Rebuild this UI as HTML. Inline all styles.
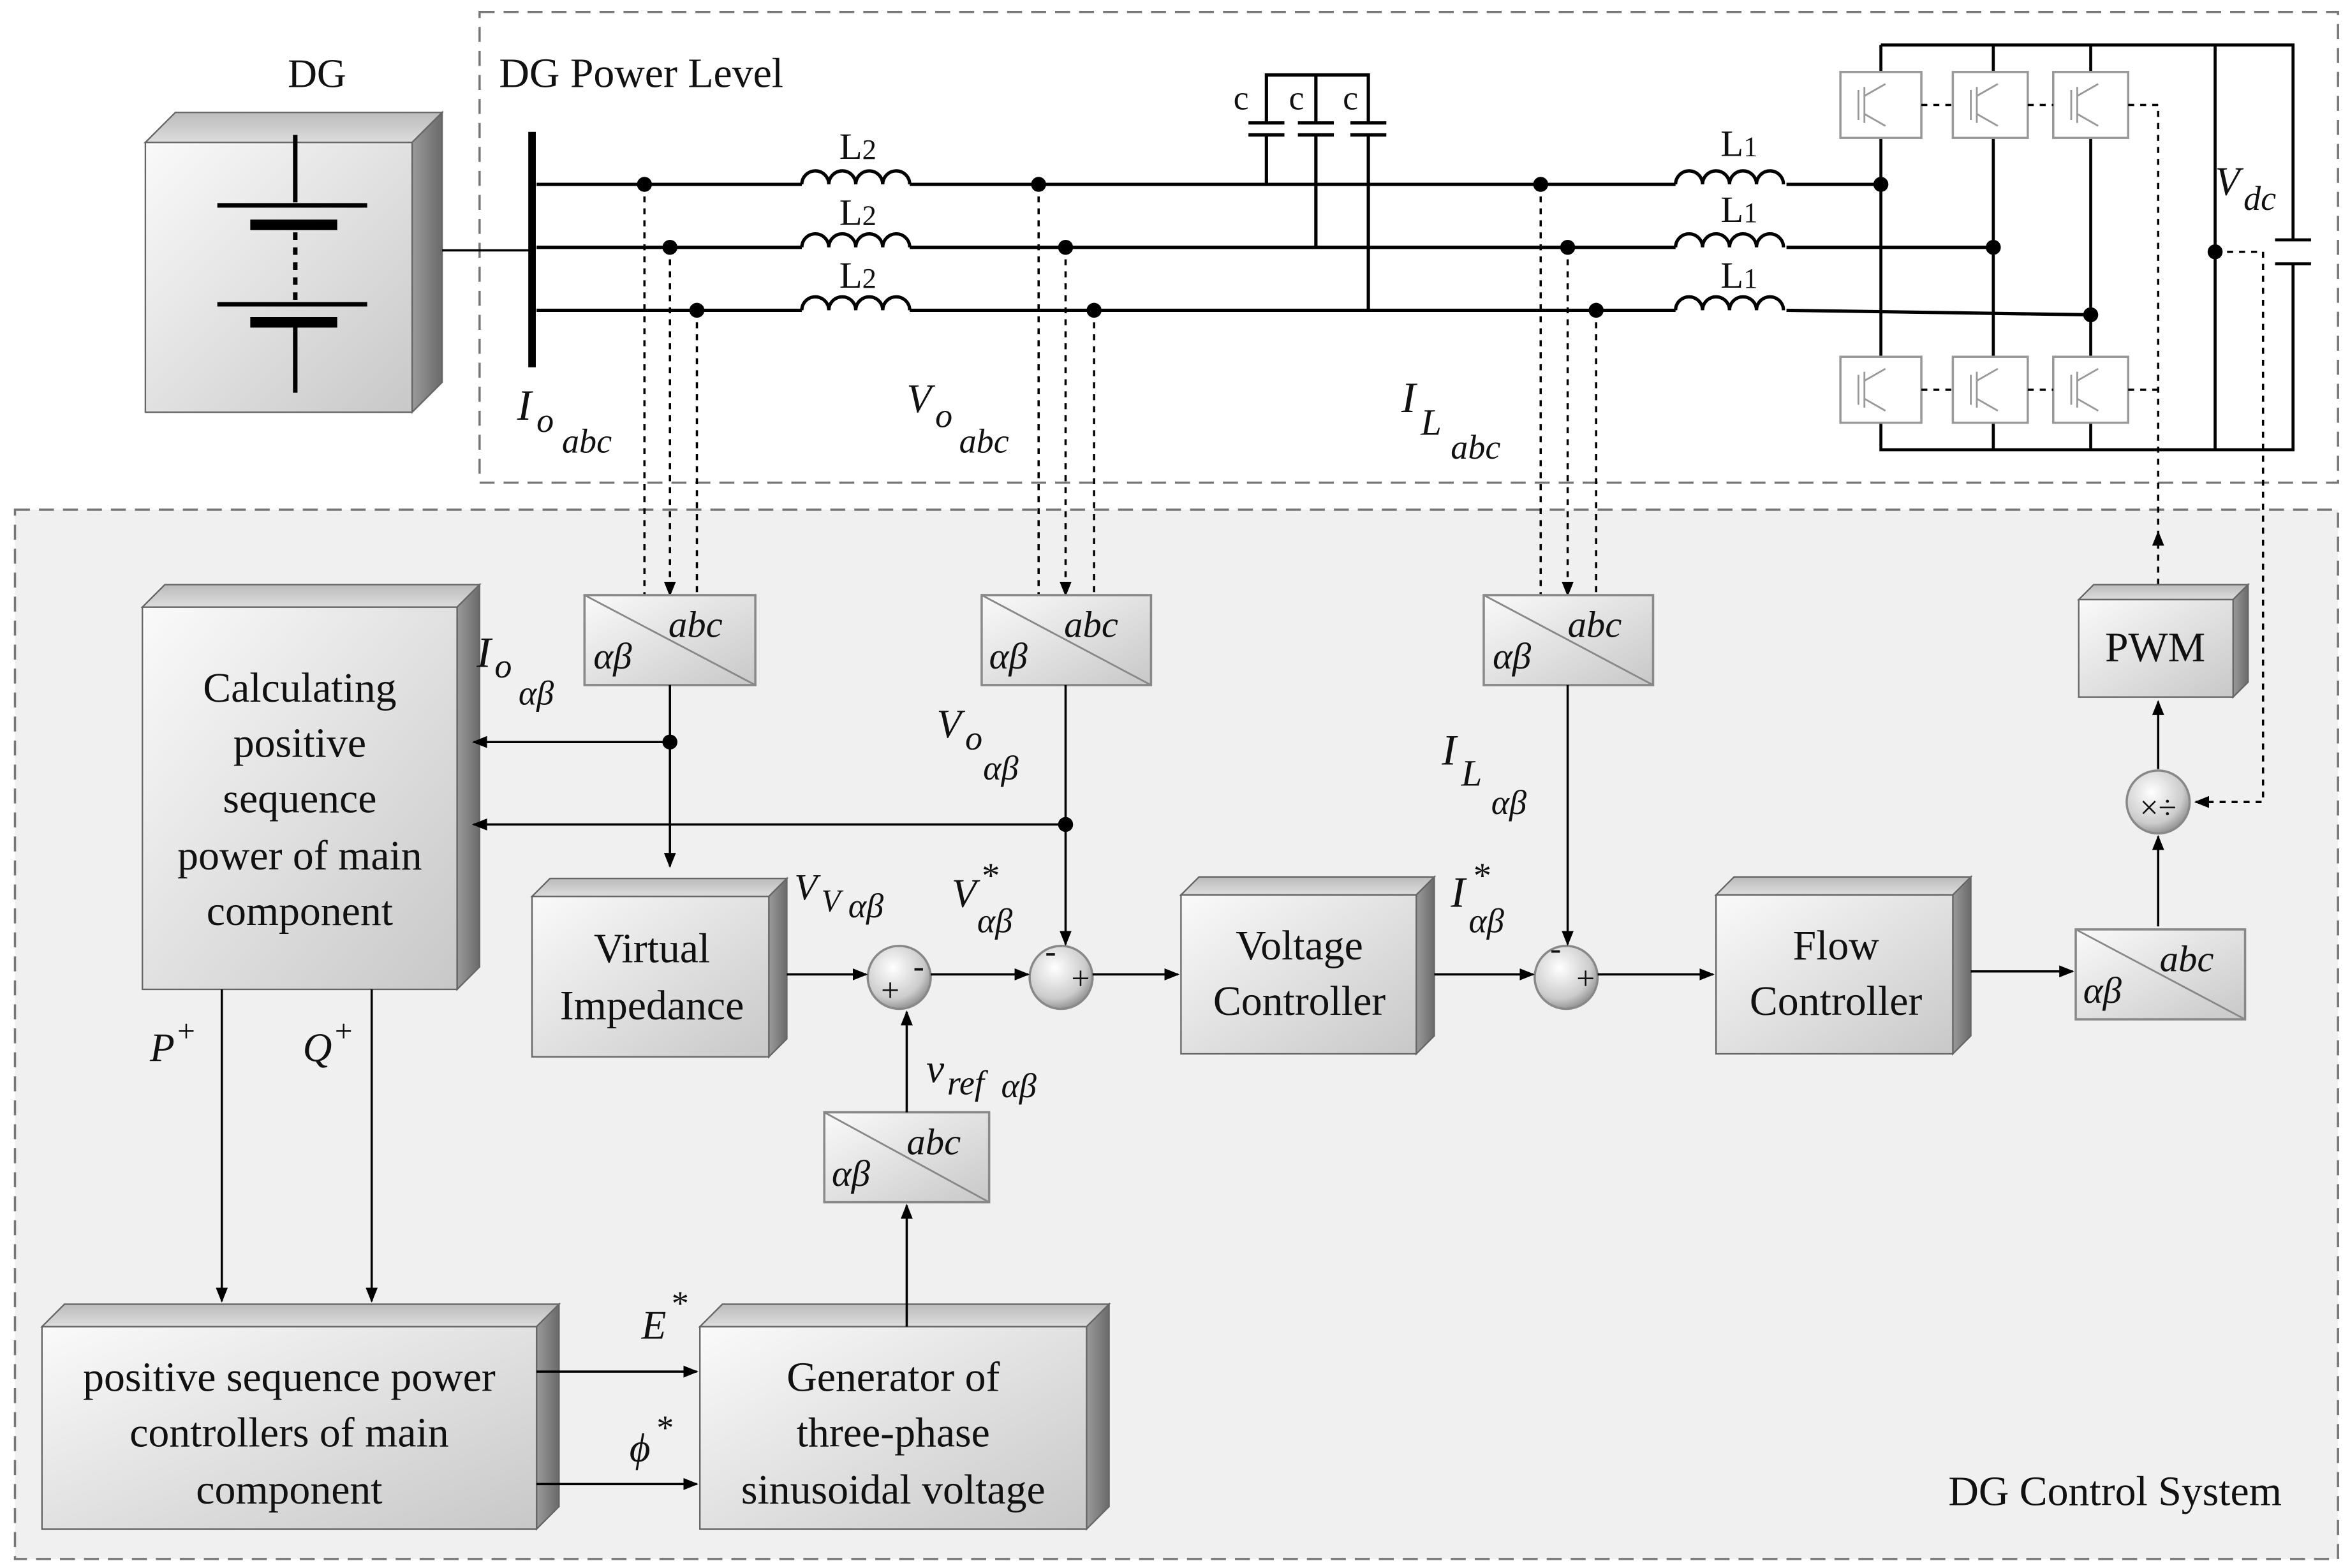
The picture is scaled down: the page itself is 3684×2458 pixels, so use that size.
<!DOCTYPE html>
<html><head><meta charset="utf-8"><style>
html,body{margin:0;padding:0;background:#fff;}
svg{display:block;}
text{font-family:"Liberation Serif",serif;fill:#111;}
</style></head><body>
<svg width="3684" height="2458" viewBox="0 0 1568 1046" preserveAspectRatio="none" xmlns="http://www.w3.org/2000/svg">
<defs>
<linearGradient id="g" x1="0" y1="0" x2="1" y2="1"><stop offset="0" stop-color="#fafafa"/><stop offset="1" stop-color="#c8c8c8"/></linearGradient>
<linearGradient id="gs" x1="0" y1="0" x2="1" y2="0"><stop offset="0" stop-color="#9a9a9a"/><stop offset="1" stop-color="#6a6a6a"/></linearGradient>
<linearGradient id="gt" x1="0" y1="0" x2="0" y2="1"><stop offset="0" stop-color="#bbb"/><stop offset="1" stop-color="#ddd"/></linearGradient>
<radialGradient id="gc" cx="0.4" cy="0.35" r="0.7"><stop offset="0" stop-color="#fff"/><stop offset="0.7" stop-color="#ccc"/><stop offset="1" stop-color="#888"/></radialGradient>
<marker id="a" markerWidth="10" markerHeight="8" refX="9" refY="4" orient="auto" markerUnits="userSpaceOnUse"><path d="M0,0 L10,4 L0,8 z" fill="#000"/></marker>
</defs>
<rect x="10" y="340" width="1550" height="700" fill="#f0f0f0" stroke="#777" stroke-dasharray="10,6" stroke-width="1.5"/>
<rect x="320" y="8" width="1240" height="314" fill="none" stroke="#777" stroke-dasharray="10,6" stroke-width="1.5"/>
<text x="192" y="58" font-size="27">DG</text>
<text x="333" y="58" font-size="28">DG Power Level</text>
<text x="1300" y="1004" font-size="28">DG Control System</text>

<!-- DG box -->
<polygon points="97,95 117,75 295,75 275,95" fill="url(#gt)" stroke="#666"/>
<polygon points="275,95 295,75 295,255 275,275" fill="url(#gs)" stroke="#666"/>
<rect x="97" y="95" width="178" height="180" fill="url(#g)" stroke="#666"/>
<g stroke="#000" stroke-width="3">
<line x1="197" y1="90" x2="197" y2="135"/><line x1="145" y1="137" x2="245" y2="137"/><line x1="167" y1="150" x2="225" y2="150" stroke-width="7"/>
<line x1="197" y1="155" x2="197" y2="200" stroke-dasharray="5,5"/>
<line x1="145" y1="203" x2="245" y2="203"/><line x1="167" y1="215" x2="225" y2="215" stroke-width="7"/><line x1="197" y1="218" x2="197" y2="262"/>
</g>
<line x1="295" y1="167" x2="355" y2="167" stroke="#000" stroke-width="1.5"/>
<line x1="355" y1="88" x2="355" y2="245" stroke="#000" stroke-width="5"/>

<!-- lines -->
<g stroke="#000" stroke-width="2.2" fill="none">
<path d="M358,123 H535 M607,123 H1118 M1192,123 H1255"/>
<path d="M358,165 H535 M607,165 H1118 M1192,165 H1330"/>
<path d="M358,207 H535 M607,207 H1118 M1192,207 L1395,210"/>
<path d="M535,123 a9,9 0 0 1 18,0 a9,9 0 0 1 18,0 a9,9 0 0 1 18,0 a9,9 0 0 1 18,0"/>
<path d="M535,165 a9,9 0 0 1 18,0 a9,9 0 0 1 18,0 a9,9 0 0 1 18,0 a9,9 0 0 1 18,0"/>
<path d="M535,207 a9,9 0 0 1 18,0 a9,9 0 0 1 18,0 a9,9 0 0 1 18,0 a9,9 0 0 1 18,0"/>
<path d="M1118,123 a9,9 0 0 1 18,0 a9,9 0 0 1 18,0 a9,9 0 0 1 18,0 a9,9 0 0 1 18,0"/>
<path d="M1118,165 a9,9 0 0 1 18,0 a9,9 0 0 1 18,0 a9,9 0 0 1 18,0 a9,9 0 0 1 18,0"/>
<path d="M1118,207 a9,9 0 0 1 18,0 a9,9 0 0 1 18,0 a9,9 0 0 1 18,0 a9,9 0 0 1 18,0"/>
<!-- caps -->
<path d="M845,123 V90 M833,90 H857 M833,82 H857 M845,82 V50 H913 V82 M878,50 V82 M866,82 H890 M866,90 H890 M878,90 V165 M901,82 H925 M901,90 H925 M913,90 V207"/>
</g>
<text x="560" y="106" font-size="25">L<tspan font-size="19">2</tspan></text>
<text x="560" y="150" font-size="25">L<tspan font-size="19">2</tspan></text>
<text x="560" y="192" font-size="25">L<tspan font-size="19">2</tspan></text>
<text x="1148" y="104" font-size="25">L<tspan font-size="19">1</tspan></text>
<text x="1148" y="148" font-size="25">L<tspan font-size="19">1</tspan></text>
<text x="1148" y="192" font-size="25">L<tspan font-size="19">1</tspan></text>
<text x="823" y="73" font-size="23">c</text><text x="860" y="73" font-size="23">c</text><text x="896" y="73" font-size="23">c</text>
<g fill="#000">
<circle cx="430" cy="123" r="5"/><circle cx="447" cy="165" r="5"/><circle cx="465" cy="207" r="5"/>
<circle cx="693" cy="123" r="5"/><circle cx="711" cy="165" r="5"/><circle cx="730" cy="207" r="5"/>
<circle cx="1028" cy="123" r="5"/><circle cx="1046" cy="165" r="5"/><circle cx="1065" cy="207" r="5"/>
<circle cx="1255" cy="123" r="5"/><circle cx="1330" cy="165" r="5"/><circle cx="1395" cy="210" r="5"/>
<circle cx="1478" cy="168" r="5"/>
</g>
<!-- inverter -->
<g stroke="#000" stroke-width="2" fill="none">
<path d="M1255,30 H1530 V160 M1530,176 V300 H1255 V30 M1330,30 V300 M1395,30 V300 M1478,30 V300"/>
<path d="M1518,160 H1542 M1518,176 H1542"/>
</g>
<g fill="#fff" stroke="#999" stroke-width="1.5">
<rect x="1228" y="48" width="54" height="44"/><rect x="1303" y="48" width="50" height="44"/><rect x="1370" y="48" width="50" height="44"/>
<rect x="1228" y="238" width="54" height="44"/><rect x="1303" y="238" width="50" height="44"/><rect x="1370" y="238" width="50" height="44"/>
</g>
<g stroke="#999" stroke-width="1.2" fill="none">
<path d="M1240,60 V80 M1244,58 V82 M1244,64 L1258,56 M1244,76 L1258,84"/>
<path d="M1315,60 V80 M1319,58 V82 M1319,64 L1333,56 M1319,76 L1333,84"/>
<path d="M1382,60 V80 M1386,58 V82 M1386,64 L1400,56 M1386,76 L1400,84"/>
<path d="M1240,250 V270 M1244,248 V272 M1244,254 L1258,246 M1244,266 L1258,274"/>
<path d="M1315,250 V270 M1319,248 V272 M1319,254 L1333,246 M1319,266 L1333,274"/>
<path d="M1382,250 V270 M1386,248 V272 M1386,254 L1400,246 M1386,266 L1400,274"/>
</g>
<g stroke="#000" stroke-width="1.5" stroke-dasharray="4,4" fill="none">
<path d="M1282,70 H1303 M1353,70 H1370 M1420,70 H1440 V360"/>
<path d="M1282,260 H1303 M1353,260 H1370 M1420,260 H1440"/>
<path d="M1478,168 H1510 V535 H1465" marker-end="url(#a)"/>
<path d="M1440,390 V355" marker-end="url(#a)"/>
<path d="M430,123 V397 M465,207 V397 M693,123 V397 M730,207 V397 M1028,123 V397 M1065,207 V397"/>
<path d="M447,165 V397" marker-end="url(#a)"/><path d="M711,165 V397" marker-end="url(#a)"/><path d="M1046,165 V397" marker-end="url(#a)"/>
</g>
<text x="1478" y="130" font-size="27" font-style="italic">V</text><text x="1497" y="140" font-size="23" font-style="italic">dc</text>
<text x="345" y="280" font-size="29" font-style="italic">I</text><text x="358" y="288" font-size="23" font-style="italic">o</text><text x="375" y="302" font-size="23" font-style="italic">abc</text>
<text x="605" y="275" font-size="27" font-style="italic">V</text><text x="624" y="285" font-size="23" font-style="italic">o</text><text x="640" y="302" font-size="23" font-style="italic">abc</text>
<text x="935" y="275" font-size="29" font-style="italic">I</text><text x="948" y="290" font-size="25" font-style="italic">L</text><text x="968" y="306" font-size="23" font-style="italic">abc</text>

<g fill="url(#g)" stroke="#888" stroke-width="1.5">
<rect x="390" y="397" width="114" height="60"/><rect x="655" y="397" width="113" height="60"/><rect x="990" y="397" width="113" height="60"/>
<rect x="550" y="742" width="110" height="60"/><rect x="1385" y="620" width="113" height="60"/>
</g>
<g stroke="#888" stroke-width="1.2">
<line x1="390" y1="397" x2="504" y2="457"/><line x1="655" y1="397" x2="768" y2="457"/><line x1="990" y1="397" x2="1103" y2="457"/>
<line x1="550" y1="742" x2="660" y2="802"/><line x1="1385" y1="620" x2="1498" y2="680"/>
</g>
<g font-size="25" font-style="italic">
<text x="446" y="425">abc</text><text x="396" y="446">αβ</text>
<text x="710" y="425">abc</text><text x="660" y="446">αβ</text>
<text x="1046" y="425">abc</text><text x="996" y="446">αβ</text>
<text x="605" y="770">abc</text><text x="555" y="791">αβ</text>
<text x="1441" y="648">abc</text><text x="1390" y="669">αβ</text>
</g>

<g stroke="#666" stroke-width="1">
<polygon points="95,405 110,390 320,390 305,405" fill="url(#gt)"/><polygon points="305,405 320,390 320,645 305,660" fill="url(#gs)"/><rect x="95" y="405" width="210" height="255" fill="url(#g)"/>
<polygon points="355,598 367,586 525,586 513,598" fill="url(#gt)"/><polygon points="513,598 525,586 525,693 513,705" fill="url(#gs)"/><rect x="355" y="598" width="158" height="107" fill="url(#g)"/>
<polygon points="788,597 800,585 957,585 945,597" fill="url(#gt)"/><polygon points="945,597 957,585 957,691 945,703" fill="url(#gs)"/><rect x="788" y="597" width="157" height="106" fill="url(#g)"/>
<polygon points="1145,597 1157,585 1315,585 1303,597" fill="url(#gt)"/><polygon points="1303,597 1315,585 1315,691 1303,703" fill="url(#gs)"/><rect x="1145" y="597" width="158" height="106" fill="url(#g)"/>
<polygon points="1387,400 1397,390 1500,390 1490,400" fill="url(#gt)"/><polygon points="1490,400 1500,390 1500,455 1490,465" fill="url(#gs)"/><rect x="1387" y="400" width="103" height="65" fill="url(#g)"/>
<polygon points="28,885 43,870 373,870 358,885" fill="url(#gt)"/><polygon points="358,885 373,870 373,1005 358,1020" fill="url(#gs)"/><rect x="28" y="885" width="330" height="135" fill="url(#g)"/>
<polygon points="467,885 482,870 740,870 725,885" fill="url(#gt)"/><polygon points="725,885 740,870 740,1005 725,1020" fill="url(#gs)"/><rect x="467" y="885" width="258" height="135" fill="url(#g)"/>
</g>
<g font-size="28" text-anchor="middle">
<text x="200" y="468">Calculating</text><text x="200" y="505">positive</text><text x="200" y="542">sequence</text><text x="200" y="580">power of main</text><text x="200" y="617">component</text>
<text x="435" y="642">Virtual</text><text x="435" y="680">Impedance</text>
<text x="867" y="640">Voltage</text><text x="867" y="677">Controller</text>
<text x="1225" y="640">Flow</text><text x="1225" y="677">Controller</text>
<text x="1438" y="441">PWM</text>
<text x="193" y="928">positive sequence power</text><text x="193" y="965">controllers of main</text><text x="193" y="1003">component</text>
<text x="596" y="928">Generator of</text><text x="596" y="965">three-phase</text><text x="596" y="1003">sinusoidal voltage</text>
</g>

<g stroke="#888" stroke-width="1.5" fill="url(#gc)">
<circle cx="600" cy="652" r="21"/><circle cx="708" cy="652" r="21"/><circle cx="1045" cy="652" r="21"/><circle cx="1440" cy="535" r="21"/>
</g>
<g font-size="22" font-family="Liberation Sans" text-anchor="middle">
<text x="594" y="668">+</text><text x="613" y="652">-</text>
<text x="701" y="642">-</text><text x="721" y="660">+</text>
<text x="1038" y="640">-</text><text x="1058" y="660">+</text>
<text x="1440" y="546">×÷</text>
</g>

<g stroke="#000" stroke-width="1.5" fill="none">
<path d="M447,457 V578" marker-end="url(#a)"/>
<path d="M447,495 H316" marker-end="url(#a)"/>
<path d="M711,457 V630" marker-end="url(#a)"/>
<path d="M711,550 H316" marker-end="url(#a)"/>
<path d="M1046,457 V630" marker-end="url(#a)"/>
<path d="M525,650 H578" marker-end="url(#a)"/>
<path d="M621,650 H686" marker-end="url(#a)"/>
<path d="M729,650 H786" marker-end="url(#a)"/>
<path d="M957,650 H1023" marker-end="url(#a)"/>
<path d="M1066,650 H1143" marker-end="url(#a)"/>
<path d="M1315,648 H1383" marker-end="url(#a)"/>
<path d="M1440,618 V558" marker-end="url(#a)"/>
<path d="M1440,513 V468" marker-end="url(#a)"/>
<path d="M605,742 V675" marker-end="url(#a)"/>
<path d="M605,885 V804" marker-end="url(#a)"/>
<path d="M148,660 V868" marker-end="url(#a)"/>
<path d="M248,660 V868" marker-end="url(#a)"/>
<path d="M358,915 H465" marker-end="url(#a)"/>
<path d="M358,990 H465" marker-end="url(#a)"/>
</g>
<g fill="#000"><circle cx="447" cy="495" r="5"/><circle cx="711" cy="550" r="5"/></g>

<g font-style="italic">
<text x="318" y="445" font-size="29">I</text><text x="330" y="452" font-size="23">o</text><text x="346" y="470" font-size="23">αβ</text>
<text x="625" y="492" font-size="27">V</text><text x="644" y="500" font-size="23">o</text><text x="656" y="520" font-size="23">αβ</text>
<text x="962" y="510" font-size="29">I</text><text x="975" y="524" font-size="25">L</text><text x="995" y="543" font-size="23">αβ</text>
<text x="530" y="600" font-size="25">V</text><text x="548" y="608" font-size="21">V</text><text x="566" y="612" font-size="23">αβ</text>
<text x="635" y="605" font-size="27">V</text><text x="654" y="592" font-size="24">*</text><text x="652" y="622" font-size="23">αβ</text>
<text x="968" y="605" font-size="29">I</text><text x="982" y="592" font-size="24">*</text><text x="980" y="622" font-size="23">αβ</text>
<text x="618" y="722" font-size="27">ν</text><text x="632" y="730" font-size="23">ref</text><text x="668" y="732" font-size="23">αβ</text>
<text x="100" y="708" font-size="27">P</text><text x="117" y="695" font-size="21">+</text>
<text x="202" y="708" font-size="27">Q</text><text x="222" y="695" font-size="21">+</text>
<text x="428" y="893" font-size="27">E</text><text x="447" y="877" font-size="23">*</text>
<text x="420" y="975" font-size="27">ϕ</text><text x="437" y="960" font-size="23">*</text>
</g>
</svg>
</body></html>
